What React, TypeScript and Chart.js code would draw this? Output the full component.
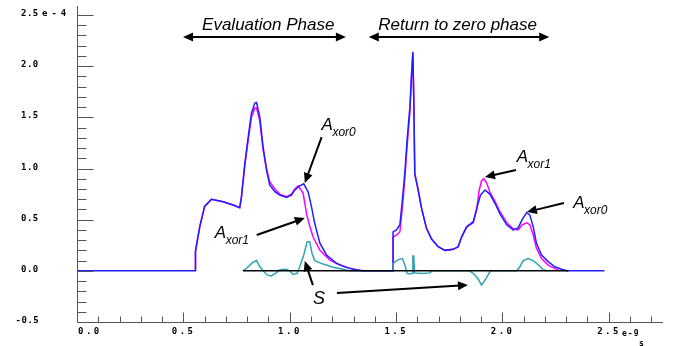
import { useEffect, useRef } from 'react';
import { Chart, registerables } from 'chart.js';

Chart.register(...registerables);

// x in ns (e-9 s), y in units of 1e-4
const xTickValues = [0, 0.5, 1.0, 1.5, 2.0, 2.5];
const xTickLabels = ['0.0', '0.5', '1.0', '1.5', '2.0', '2.5'];
const yTickValues = [2.5, 2.0, 1.5, 1.0, 0.5, 0.0, -0.5];
const yTickLabels = ['2.5', '2.0', '1.5', '1.0', '0.5', '0.0', '-0.5'];

const axor0: [number, number][] = [
  [0, 0], [0.557, 0], [0.557, 0.19], [0.577, 0.43], [0.6, 0.63], [0.632, 0.7], [0.687, 0.675],
  [0.734, 0.643], [0.765, 0.617], [0.773, 0.72], [0.789, 1.05], [0.805, 1.31], [0.82, 1.54],
  [0.836, 1.64], [0.844, 1.645], [0.859, 1.51], [0.875, 1.21], [0.891, 0.985], [0.906, 0.84],
  [0.93, 0.773], [0.953, 0.74], [0.985, 0.718], [1.008, 0.74], [1.024, 0.79], [1.047, 0.83],
  [1.066, 0.85], [1.087, 0.77], [1.102, 0.63], [1.118, 0.46], [1.142, 0.27], [1.173, 0.155],
  [1.22, 0.073], [1.267, 0.034], [1.314, 0.008], [1.34, 0], [1.486, 0], [1.486, 0.38],
  [1.502, 0.4], [1.518, 0.45], [1.531, 0.72], [1.541, 0.95], [1.552, 1.28], [1.565, 1.6],
  [1.573, 1.93], [1.579, 2.14], [1.584, 1.6], [1.588, 0.95], [1.604, 0.79], [1.62, 0.61],
  [1.643, 0.415], [1.667, 0.31], [1.698, 0.236], [1.73, 0.2], [1.769, 0.21], [1.792, 0.236],
  [1.808, 0.33], [1.832, 0.43], [1.863, 0.48], [1.882, 0.63], [1.897, 0.74], [1.918, 0.79],
  [1.941, 0.75], [1.965, 0.66], [1.988, 0.56], [2.02, 0.45], [2.051, 0.4], [2.074, 0.42],
  [2.093, 0.5], [2.114, 0.57], [2.129, 0.545], [2.145, 0.43], [2.16, 0.27], [2.184, 0.155],
  [2.215, 0.09], [2.247, 0.04], [2.278, 0.015], [2.302, 0], [2.48, 0],
];

const axor1: [number, number][] = [
  [0.557, 0], [0.557, 0.19], [0.577, 0.43], [0.6, 0.63], [0.632, 0.7], [0.687, 0.675],
  [0.734, 0.643], [0.765, 0.617], [0.773, 0.72], [0.789, 1.03], [0.805, 1.28], [0.82, 1.5],
  [0.836, 1.59], [0.844, 1.59], [0.859, 1.47], [0.875, 1.18], [0.891, 1.0], [0.906, 0.87],
  [0.93, 0.8], [0.953, 0.75], [0.985, 0.725], [1.008, 0.75], [1.024, 0.8], [1.04, 0.83],
  [1.063, 0.76], [1.079, 0.56], [1.095, 0.43], [1.11, 0.33], [1.142, 0.2], [1.189, 0.105],
  [1.236, 0.057], [1.283, 0.024], [1.33, 0.005], [1.35, 0], [1.486, 0], [1.486, 0.33],
  [1.502, 0.35], [1.518, 0.38], [1.531, 0.65], [1.541, 0.9], [1.552, 1.22], [1.565, 1.55],
  [1.573, 1.9], [1.579, 2.12], [1.584, 1.6], [1.588, 0.95], [1.604, 0.79], [1.62, 0.61],
  [1.643, 0.415], [1.667, 0.31], [1.698, 0.236], [1.73, 0.2], [1.769, 0.21], [1.792, 0.236],
  [1.808, 0.33], [1.832, 0.43], [1.863, 0.47], [1.879, 0.6], [1.891, 0.79], [1.902, 0.88],
  [1.913, 0.9], [1.926, 0.86], [1.941, 0.77], [1.965, 0.68], [1.988, 0.58], [2.02, 0.47],
  [2.051, 0.41], [2.074, 0.4], [2.093, 0.45], [2.114, 0.47], [2.129, 0.45], [2.145, 0.35],
  [2.16, 0.22], [2.184, 0.12], [2.215, 0.056], [2.247, 0.022], [2.27, 0],
];

const sSignal: [number, number][] = [
  [0.781, 0], [0.8, 0.03], [0.825, 0.08], [0.844, 0.1], [0.86, 0.04], [0.875, 0],
  [0.894, -0.04], [0.914, -0.05], [0.933, -0.025], [0.953, 0.01], [0.985, 0.015], [1.0, 0],
  [1.016, -0.035], [1.035, -0.025], [1.047, 0.04], [1.066, 0.155], [1.082, 0.285],
  [1.094, 0.285], [1.105, 0.17], [1.118, 0.1], [1.157, 0.066], [1.204, 0.035], [1.251, 0.015],
  [1.28, 0], [1.486, 0], [1.486, 0.073], [1.51, 0.11], [1.53, 0.12], [1.541, 0.06],
  [1.552, -0.025], [1.565, -0.03], [1.575, -0.025], [1.579, 0.145], [1.583, 0.145],
  [1.587, -0.02], [1.62, -0.025], [1.659, -0.02], [1.67, 0], [1.847, 0], [1.871, -0.04],
  [1.886, -0.08], [1.902, -0.14], [1.918, -0.09], [1.933, -0.04], [1.944, 0], [2.067, 0],
  [2.082, 0.04], [2.098, 0.1], [2.121, 0.12], [2.145, 0.1], [2.168, 0.06], [2.192, 0.01],
  [2.208, 0],
];

const zeroRef: [number, number][] = [[0.78, 0], [2.31, 0]];

// annotations in data coordinates: [x, y]
const phaseLabels = [
  { text: 'Evaluation Phase', x: 0.588, y: 2.353, from: 0.4986, to: 1.264, ay: 2.285 },
  { text: 'Return to zero phase', x: 1.416, y: 2.353, from: 1.372, to: 2.22, ay: 2.285 },
];
const curveLabels = [
  { sub: 'xor0', x: 1.15, y: 1.376, tail: [1.15, 1.307], head: [1.071, 0.858] },
  { sub: 'xor1', x: 0.648, y: 0.321, tail: [0.845, 0.35], head: [1.071, 0.516] },
  { sub: 'xor1', x: 2.067, y: 1.066, tail: [2.064, 0.985], head: [1.918, 0.917] },
  { sub: 'xor0', x: 2.333, y: 0.614, tail: [2.289, 0.663], head: [2.115, 0.575] },
];
const sLabel = { text: 'S', x: 1.109, y: -0.325 };
const sArrows = [
  { tail: [1.109, -0.139], head: [1.071, 0.096] },
  { tail: [1.222, -0.217], head: [1.838, -0.139] },
];

function arrowHead(ctx: CanvasRenderingContext2D, x1: number, y1: number, x2: number, y2: number) {
  const a = Math.atan2(y2 - y1, x2 - x1);
  const L = 10, W = 4.5;
  ctx.beginPath();
  ctx.moveTo(x2, y2);
  ctx.lineTo(x2 - L * Math.cos(a) + W * Math.sin(a), y2 - L * Math.sin(a) - W * Math.cos(a));
  ctx.lineTo(x2 - L * Math.cos(a) - W * Math.sin(a), y2 - L * Math.sin(a) + W * Math.cos(a));
  ctx.closePath();
  ctx.fill();
}

function arrow(ctx: CanvasRenderingContext2D, x1: number, y1: number, x2: number, y2: number, both = false) {
  const a = Math.atan2(y2 - y1, x2 - x1);
  ctx.beginPath();
  ctx.moveTo(both ? x1 + 8 * Math.cos(a) : x1, both ? y1 + 8 * Math.sin(a) : y1);
  ctx.lineTo(x2 - 8 * Math.cos(a), y2 - 8 * Math.sin(a));
  ctx.stroke();
  arrowHead(ctx, x1, y1, x2, y2);
  if (both) arrowHead(ctx, x2, y2, x1, y1);
}

const decorPlugin = {
  id: 'decor',
  afterDraw(chart: any) {
    const { ctx, scales } = chart;
    const xs = scales.x, ys = scales.y;
    const px = (v: number) => xs.getPixelForValue(v);
    const py = (v: number) => ys.getPixelForValue(v);
    ctx.save();
    // axes
    const ax = Math.round(px(0)) + 0.5;
    const ay = Math.round(py(-0.5)) + 0.5;
    ctx.strokeStyle = '#555';
    ctx.lineWidth = 1;
    ctx.beginPath();
    ctx.moveTo(ax, py(2.5) - 9);
    ctx.lineTo(ax, ay);
    ctx.lineTo(xs.right, ay);
    ctx.stroke();
    ctx.beginPath();
    for (let i = -5; i <= 25; i++) {
      const yy = Math.round(py(i / 10)) + 0.5;
      const len = i % 5 === 0 ? 16 : 9;
      ctx.moveTo(ax, yy);
      ctx.lineTo(ax + len, yy);
    }
    for (let i = 1; i <= 27; i++) {
      const xx = Math.round(px(i / 10)) + 0.5;
      const len = i % 5 === 0 ? 10 : 6;
      ctx.moveTo(xx, ay);
      ctx.lineTo(xx, ay - len);
    }
    ctx.stroke();

    // tick labels
    ctx.fillStyle = '#000';
    ctx.font = 'bold 9px "DejaVu Sans Mono", monospace';
    ctx.textBaseline = 'alphabetic';
    ctx.textAlign = 'left';
    const cw = ctx.measureText('0').width;
    (ctx as any).letterSpacing = '0.5px';
    yTickValues.forEach((v, i) => {
      const lab = yTickLabels[i];
      const lx = 21 - (lab.startsWith('-') ? cw : 0);
      ctx.fillText(lab, lx, py(v) + 1);
      if (i === 0) {
        (ctx as any).letterSpacing = '4px';
        ctx.fillText('e-4', 42, py(v) + 1);
        (ctx as any).letterSpacing = '0.5px';
      }
    });
    (ctx as any).letterSpacing = '2.5px';
    xTickValues.forEach((v, i) => {
      const lab = xTickLabels[i];
      const w = ctx.measureText(lab).width - 2.5;
      const lx = i === 0 ? px(v) + 1 : px(v) - 1 - w / 2;
      ctx.fillText(lab, lx, ay + 11);
    });
    (ctx as any).letterSpacing = '1px';
    ctx.font = 'bold 8px "DejaVu Sans Mono", monospace';
    ctx.fillText('e-9', 622, ay + 13);
    ctx.fillText('s', 639, ay + 23);
    (ctx as any).letterSpacing = '0px';

    // annotations
    ctx.fillStyle = '#000';
    ctx.strokeStyle = '#000';
    ctx.lineWidth = 2;
    ctx.font = 'italic 17px "Liberation Sans", Arial, sans-serif';
    phaseLabels.forEach((p) => {
      ctx.fillText(p.text, px(p.x), py(p.y));
      arrow(ctx, px(p.from), py(p.ay), px(p.to), py(p.ay), true);
    });
    curveLabels.forEach((c) => {
      ctx.font = 'italic 17px "Liberation Sans", Arial, sans-serif';
      const x0 = px(c.x), y0 = py(c.y);
      ctx.fillText('A', x0, y0);
      const aw = ctx.measureText('A').width;
      ctx.font = 'italic 12px "Liberation Sans", Arial, sans-serif';
      ctx.fillText(c.sub, x0 + aw - 0.5, y0 + 6);
      arrow(ctx, px(c.tail[0]), py(c.tail[1]), px(c.head[0]), py(c.head[1]));
    });
    ctx.font = 'italic 18px "Liberation Sans", Arial, sans-serif';
    ctx.fillText(sLabel.text, px(sLabel.x), py(sLabel.y));
    sArrows.forEach((a) => arrow(ctx, px(a.tail[0]), py(a.tail[1]), px(a.head[0]), py(a.head[1])));
    ctx.restore();
  },
};

const toPts = (arr: [number, number][]) => arr.map(([x, y]) => ({ x, y }));

export default function App() {
  const ref = useRef<HTMLCanvasElement>(null);
  useEffect(() => {
    document.body.style.margin = '0';
    const line = (data: [number, number][], color: string, w = 1.5) => ({
      data: toPts(data),
      borderColor: color,
      borderWidth: w,
      pointRadius: 0,
      tension: 0,
      fill: false,
    });
    const chart = new Chart(ref.current!, {
      type: 'line',
      data: {
        datasets: [
          line(zeroRef, '#000000', 1.5),
          line(sSignal, '#2fa3b3', 1.5),
          line(axor0, '#2020ff', 1.5),
          line(axor1, '#ff00ff', 1.5),
        ],
      },
      options: {
        responsive: false,
        animation: false,
        parsing: true,
        layout: { padding: { left: 0, top: 15, right: 14, bottom: 0 } },
        plugins: { legend: { display: false }, tooltip: { enabled: false } },
        scales: {
          x: {
            type: 'linear',
            min: 0,
            max: 2.755,
            ticks: { display: false },
            grid: { display: false },
            border: { display: false },
            afterFit: (s: any) => { s.height = 24; },
          },
          y: {
            type: 'linear',
            min: -0.5,
            max: 2.5,
            ticks: { display: false },
            grid: { display: false },
            border: { display: false },
            afterFit: (s: any) => { s.width = 77; },
          },
        },
      },
      plugins: [decorPlugin],
    });
    return () => chart.destroy();
  }, []);
  return (
    <div style={{ position: 'absolute', left: 0, top: 0, width: 677, height: 346, background: '#fff' }}>
      <canvas ref={ref} width={677} height={346} />
    </div>
  );
}
